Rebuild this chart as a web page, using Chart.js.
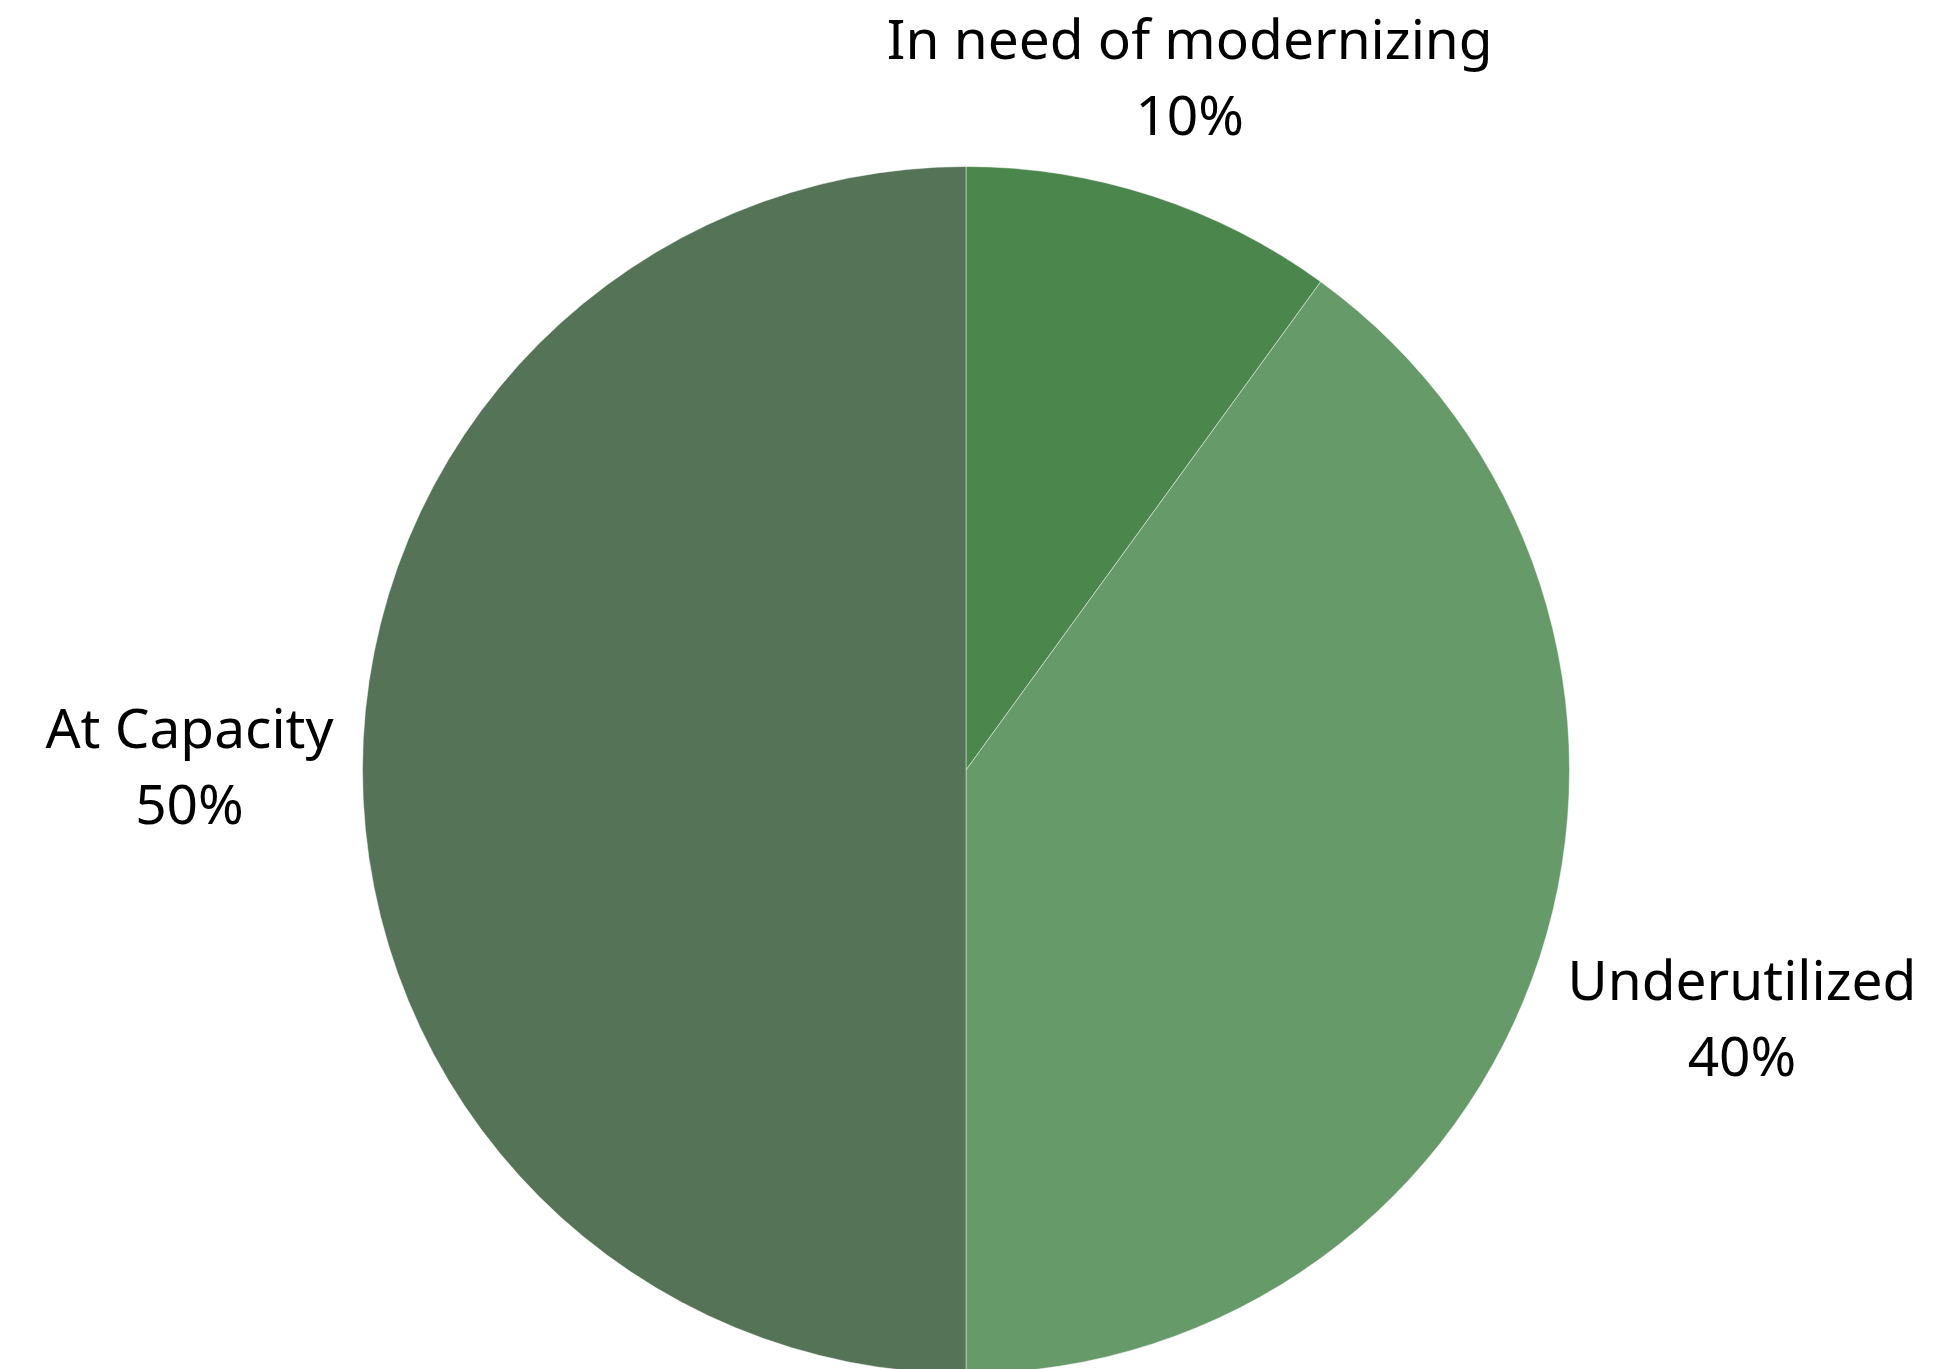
<!DOCTYPE html>
<html>
<head>
<meta charset="utf-8">
<title>Facility utilization</title>
<script src="https://cdn.jsdelivr.net/npm/chart.js@4.4.1/dist/chart.umd.min.js"></script>
<style>
  html, body { margin: 0; padding: 0; background: #ffffff; overflow: hidden; }
  #wrap { position: absolute; left: 0; top: 0; width: 1954px; height: 1400px; }
</style>
</head>
<body>
<div id="wrap"><canvas id="utilChart"></canvas></div>
<script>
const categories = ['In need of modernizing', 'Underutilized', 'At Capacity'];
const shares = [10, 40, 50];
const sliceColors = ['#4b874d', '#669a68', '#557357'];

// outside-end labels: category on the first line, percentage below
const outsideLabels = {
  id: 'outsideLabels',
  afterDatasetsDraw(chart) {
    const c = chart.ctx;
    const meta = chart.getDatasetMeta(0);
    const total = shares.reduce((a, b) => a + b, 0);
    const gap = 29, lineH = 76, padY = 11;
    c.save();
    c.font = '55px "Noto Sans", sans-serif';
    c.fillStyle = '#000000';
    c.textAlign = 'center';
    c.textBaseline = 'middle';
    meta.data.forEach((arc, i) => {
      const p = arc.getProps(['x', 'y', 'startAngle', 'endAngle', 'outerRadius'], true);
      const mid = (p.startAngle + p.endAngle) / 2;
      const cos = Math.cos(mid), sin = Math.sin(mid);
      const lines = [categories[i], Math.round(shares[i] / total * 100) + '%'];
      const hw = Math.max(...lines.map(t => c.measureText(t).width)) / 2;
      const hh = lines.length * lineH / 2 + padY;
      const px = p.x + cos * (p.outerRadius + gap);
      const py = p.y + sin * (p.outerRadius + gap);
      // push the box out so its edge touches the anchor point
      const t = Math.min(Math.abs(cos) > 1e-6 ? hw / Math.abs(cos) : Infinity,
                         Math.abs(sin) > 1e-6 ? hh / Math.abs(sin) : Infinity);
      const cx = px + cos * t, cy = py + sin * t;
      lines.forEach((txt, k) => {
        c.fillText(txt, cx, cy - hh + padY + lineH * (k + 0.5));
      });
    });
    c.restore();
  }
};

new Chart(document.getElementById('utilChart'), {
  type: 'pie',
  data: {
    labels: categories,
    datasets: [{
      data: shares,
      backgroundColor: sliceColors,
      borderColor: 'rgba(255,255,255,0.45)',
      borderWidth: 1
    }]
  },
  options: {
    responsive: true,
    maintainAspectRatio: false,
    animation: false,
    layout: { padding: { top: 166, bottom: 26, left: 0, right: 22 } },
    plugins: {
      legend: { display: false },
      tooltip: { enabled: false }
    }
  },
  plugins: [outsideLabels]
});
</script>
</body>
</html>
